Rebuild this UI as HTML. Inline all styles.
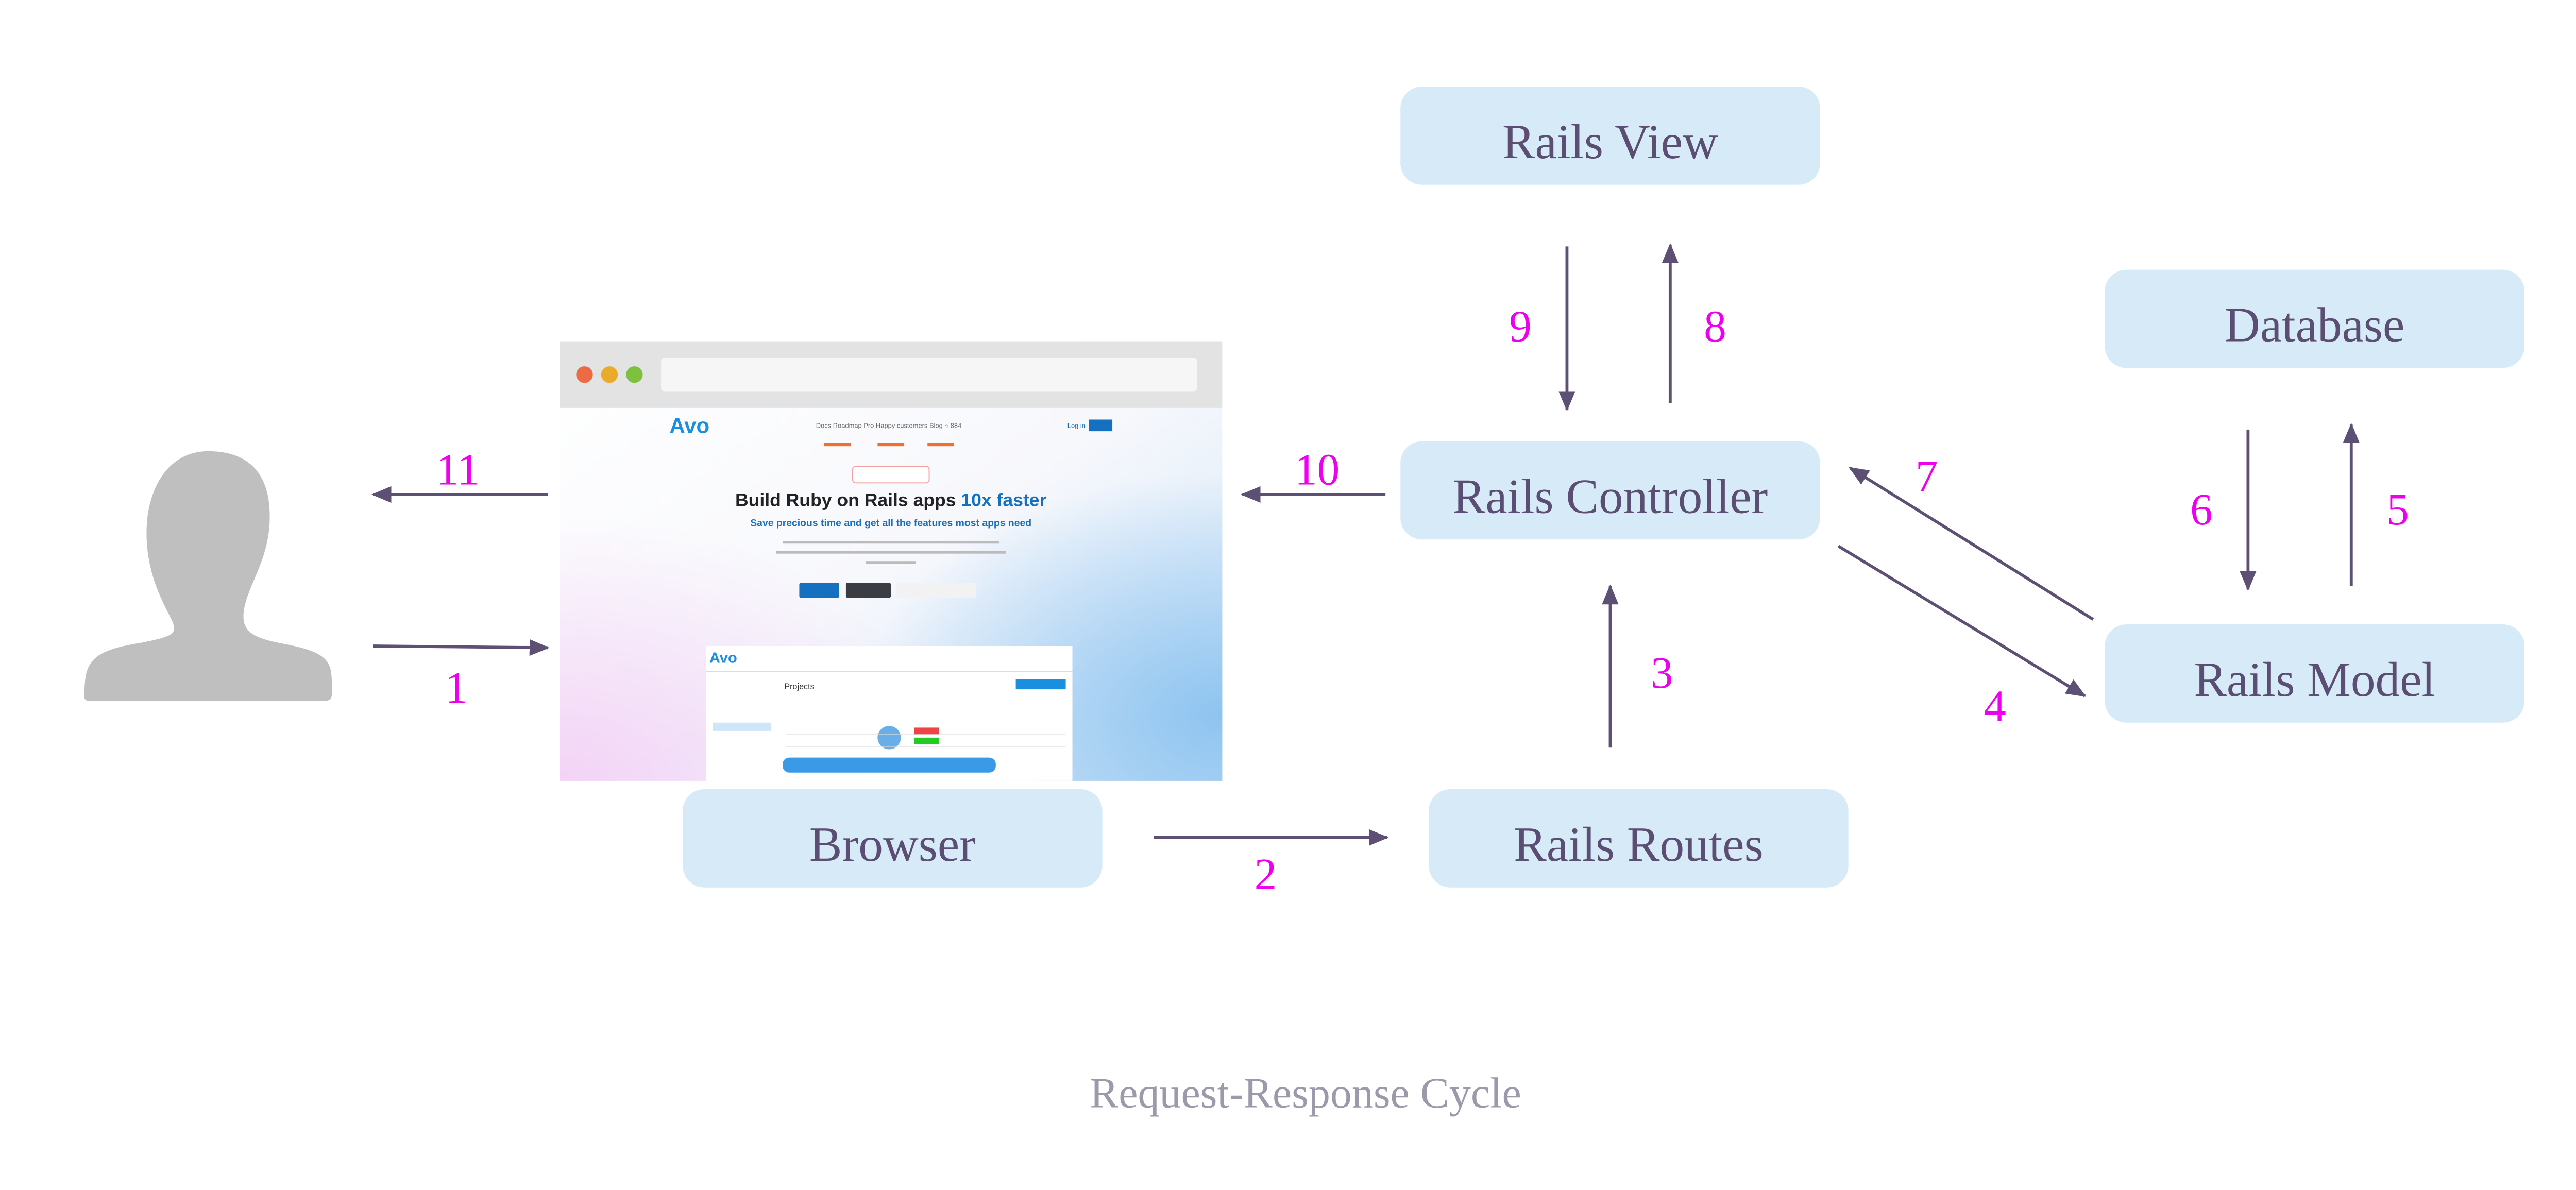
<!DOCTYPE html>
<html><head><meta charset="utf-8"><style>
html,body{margin:0;padding:0;background:#fff;}
svg{display:block;}
</style></head><body>
<svg width="5068" height="2310" viewBox="0 0 1568 714.7" preserveAspectRatio="none" xmlns="http://www.w3.org/2000/svg">
<defs>
<marker id="ah" viewBox="0 0 12 10" refX="11" refY="5" markerWidth="12" markerHeight="10" markerUnits="userSpaceOnUse" orient="auto">
<path d="M0,0 L12,5 L0,10 Z" fill="#5e5075"/>
</marker>
<linearGradient id="bg1" x1="0" y1="0" x2="1" y2="1">
<stop offset="0" stop-color="#ffffff"/>
<stop offset="0.5" stop-color="#f7f8fc"/>
<stop offset="1" stop-color="#cfe4f8"/>
</linearGradient>
<radialGradient id="pink" cx="0" cy="1" r="0.6">
<stop offset="0" stop-color="#f3d3f6"/>
<stop offset="1" stop-color="#f3d3f6" stop-opacity="0"/>
</radialGradient>
<radialGradient id="blue" cx="1" cy="0.85" r="0.55">
<stop offset="0" stop-color="#8ec4f0"/>
<stop offset="1" stop-color="#8ec4f0" stop-opacity="0"/>
</radialGradient>
</defs>

<g fill="#d6eaf7">
<rect x="841" y="52" width="252" height="59" rx="13"/>
<rect x="1264" y="162" width="252" height="59" rx="13"/>
<rect x="841" y="265" width="252" height="59" rx="13"/>
<rect x="1264" y="375" width="252" height="59" rx="13"/>
<rect x="410" y="474" width="252" height="59" rx="13"/>
<rect x="858" y="474" width="252" height="59" rx="13"/>
</g>
<g font-family="Liberation Serif, serif" font-size="29.5" fill="#5b4e72" text-anchor="middle">
<text x="967" y="95">Rails View</text>
<text x="1390" y="205">Database</text>
<text x="967" y="308">Rails Controller</text>
<text x="1390" y="418">Rails Model</text>
<text x="536" y="517">Browser</text>
<text x="984" y="517">Rails Routes</text>
</g>

<rect x="336" y="205" width="398" height="264" fill="url(#bg1)"/>
<rect x="336" y="205" width="398" height="264" fill="url(#pink)"/>
<rect x="336" y="205" width="398" height="264" fill="url(#blue)"/>
<rect x="336" y="205" width="398" height="40" fill="#e3e3e3"/>
<rect x="397" y="215" width="322" height="20" rx="2" fill="#f6f6f6"/>
<circle cx="351" cy="225" r="5" fill="#ec6b45"/>
<circle cx="366" cy="225" r="5" fill="#eaaa2c"/>
<circle cx="381" cy="225" r="5" fill="#7dc23e"/>
<text x="402" y="260" font-family="Liberation Sans, sans-serif" font-weight="bold" font-size="13" fill="#1a8fe0">Avo</text>
<text x="490" y="257" font-family="Liberation Sans, sans-serif" font-size="4" fill="#666">Docs  Roadmap  Pro  Happy customers  Blog  ⌂ 884</text>
<rect x="654" y="252" width="14" height="7" fill="#1570c0"/>
<text x="641" y="257" font-family="Liberation Sans, sans-serif" font-size="4" fill="#1570c0">Log in</text>
<g fill="#ee7030"><rect x="495" y="266" width="16" height="2"/><rect x="527" y="266" width="16" height="2"/><rect x="557" y="266" width="16" height="2"/></g>
<rect x="512" y="280" width="46" height="10" rx="2" fill="#fff" stroke="#f2a0a0" stroke-width="0.6"/>
<text x="535" y="304" font-family="Liberation Sans, sans-serif" font-weight="bold" font-size="11" fill="#222" text-anchor="middle">Build Ruby on Rails apps <tspan fill="#1570c0">10x faster</tspan></text>
<text x="535" y="316" font-family="Liberation Sans, sans-serif" font-weight="bold" font-size="6" fill="#1570c0" text-anchor="middle">Save precious time and get all the features most apps need</text>
<g fill="#bbb"><rect x="470" y="325" width="130" height="1.5"/><rect x="466" y="331" width="138" height="1.5"/><rect x="520" y="337" width="30" height="1.5"/></g>
<rect x="480" y="350" width="24" height="9" rx="1" fill="#1570c0"/>
<rect x="508" y="350" width="27" height="9" rx="1" fill="#3a3d44"/>
<rect x="538" y="350" width="48" height="9" rx="1" fill="#f2f2f2"/>
<rect x="424" y="388" width="220" height="81" fill="#ffffff"/>
<text x="426" y="398" font-family="Liberation Sans, sans-serif" font-weight="bold" font-size="9" fill="#1a8fe0">Avo</text>
<rect x="424" y="403" width="220" height="0.6" fill="#ddd"/>
<text x="471" y="414" font-family="Liberation Sans, sans-serif" font-size="5" fill="#333">Projects</text>
<rect x="610" y="408" width="30" height="6" fill="#1a8fe0"/>
<rect x="428" y="434" width="35" height="5" fill="#cfe6f8"/>
<g fill="#e44"><rect x="549" y="437" width="15" height="4"/></g>
<g fill="#2c2"><rect x="549" y="443" width="15" height="4"/></g>
<rect x="470" y="455" width="128" height="9" rx="4" fill="#3a9ae8"/>
<circle cx="534" cy="443" r="7" fill="#6aaee8"/>
<g fill="#ddd"><rect x="472" y="441" width="168" height="0.5"/><rect x="472" y="448" width="168" height="0.5"/></g>

<path d="M125,271 C100,271 88,295 88,320 C88,345 98,362 103,372 C107,381 104,382 85,386 C60,390 52,395 51,410 C50,421 50,421 56,421 L194,421 C200,421 200,419 199,405 C198,393 188,390 167,386 C148,382 143,377 148,360 C153,345 162,332 162,310 C162,285 150,271 125,271 Z" fill="#bebfbe"/>

<g stroke="#5e5075" stroke-width="1.8" fill="none" marker-end="url(#ah)">
<line x1="329" y1="297" x2="224" y2="297"/>
<line x1="224" y1="388" x2="329" y2="389"/>
<line x1="832" y1="297" x2="746" y2="297"/>
<line x1="693" y1="503" x2="833" y2="503"/>
<line x1="967" y1="449" x2="967" y2="352"/>
<line x1="941" y1="148" x2="941" y2="246"/>
<line x1="1003" y1="242" x2="1003" y2="147"/>
<line x1="1257" y1="372" x2="1111" y2="281"/>
<line x1="1104" y1="328" x2="1252" y2="418"/>
<line x1="1350" y1="258" x2="1350" y2="354"/>
<line x1="1412" y1="352" x2="1412" y2="255"/>
</g>

<g font-family="Liberation Serif, serif" font-size="27" fill="#ee00ee" text-anchor="middle">
<text x="275" y="291">11</text>
<text x="274" y="422">1</text>
<text x="791" y="291">10</text>
<text x="760" y="534">2</text>
<text x="998" y="413">3</text>
<text x="913" y="205">9</text>
<text x="1030" y="205">8</text>
<text x="1157" y="295">7</text>
<text x="1198" y="433">4</text>
<text x="1322" y="315">6</text>
<text x="1440" y="315">5</text>
</g>

<text x="784" y="665" font-family="Liberation Serif, serif" font-size="26" fill="#9c99ab" text-anchor="middle">Request-Response Cycle</text>
</svg>
</body></html>
